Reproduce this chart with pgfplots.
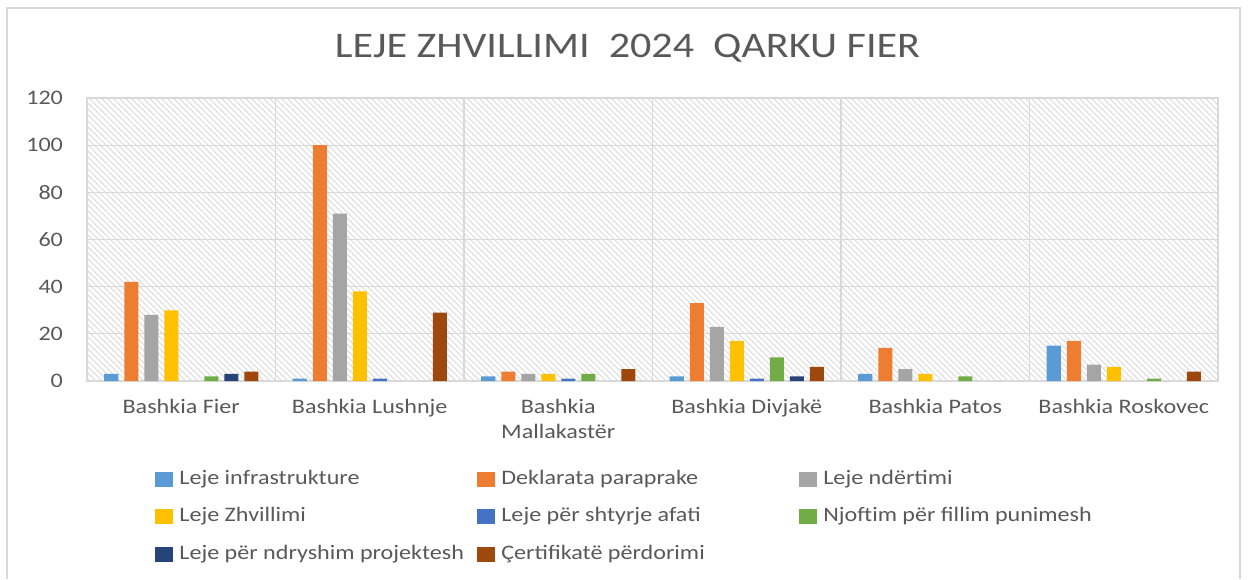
\documentclass[border=0pt]{standalone}
\usepackage{pgfplots}
\pgfplotsset{compat=1.18}
\usetikzlibrary{patterns}
\usepackage{fontspec}
\setmainfont{Carlito}[FakeStretch=1.17]
\definecolor{txt}{HTML}{595959}
\definecolor{gridc}{HTML}{D9D9D9}
\definecolor{c1}{HTML}{5B9BD5}
\definecolor{c2}{HTML}{ED7D31}
\definecolor{c3}{HTML}{A5A5A5}
\definecolor{c4}{HTML}{FFC000}
\definecolor{c5}{HTML}{4472C4}
\definecolor{c6}{HTML}{70AD47}
\definecolor{c7}{HTML}{264478}
\definecolor{c8}{HTML}{9E480E}
\begin{document}
\begin{tikzpicture}
\useasboundingbox (0,0) rectangle (624pt,-289.5pt);
\draw[gridc, line width=0.8pt] (3.5pt,-289.5pt) -- (3.5pt,-4pt) -- (620pt,-4pt) -- (620pt,-289.5pt);
\node[text=txt, font=\fontsize{18}{21}\selectfont] at (313.75pt,-24pt) {LEJE ZHVILLIMI\ \ 2024\ \ QARKU FIER};
\begin{axis}[
  at={(43.5pt,-190.5pt)}, anchor=south west,
  scale only axis, width=565.5pt, height=141.5pt,
  xmin=-0.5, xmax=5.5, ymin=0, ymax=120,
  ytick={0,20,...,120},
  xtick={0,...,5},
  xticklabels={Bashkia Fier, Bashkia Lushnje, {Bashkia\\Mallakastër}, Bashkia Divjakë, Bashkia Patos, Bashkia Roskovec},
  minor xtick={0.5,1.5,2.5,3.5,4.5},
  ymajorgrids, xminorgrids,
  major grid style={gridc, line width=0.6pt},
  minor grid style={gridc, line width=0.6pt},
  axis line style={gridc, line width=0.6pt},
  major tick length=0pt, minor tick length=0pt,
  tick style={draw=none},
  axis background/.style={pattern=north west lines, pattern color=gray!30},
  /pgf/number format/assume math mode=true,
  ticklabel style={font=\fontsize{10.3}{12.4}\selectfont, text=txt},
  yticklabel style={xshift=-8.5pt},
  xticklabel style={align=center, yshift=-5.5pt},
  ybar=3pt, bar width=7pt,
  unbounded coords=discard,
  every axis plot/.append style={draw=none, y filter/.expression={y==0 ? nan : y}},
  legend columns=3,
  legend image code/.code={\fill[#1] (0pt,-3.75pt) rectangle (9pt,3.75pt);},
  legend style={at={(axis description cs:0.0601,-0.311)}, anchor=north west, draw=none, fill=none, inner sep=0pt, column sep=3pt, row sep=8.75pt, font=\fontsize{10.3}{12.4}\selectfont, text=txt, nodes={inner sep=0pt, text height=7.5pt, text depth=2.5pt, anchor=west}},
]
\addplot[fill=c1] coordinates {(0,3) (1,1) (2,2) (3,2) (4,3) (5,15)};
\addlegendentry{\makebox[146pt][l]{Leje infrastrukture}}
\addplot[fill=c2] coordinates {(0,42) (1,100) (2,4) (3,33) (4,14) (5,17)};
\addlegendentry{\makebox[146pt][l]{Deklarata paraprake}}
\addplot[fill=c3] coordinates {(0,28) (1,71) (2,3) (3,23) (4,5) (5,7)};
\addlegendentry{\makebox[146pt][l]{Leje ndërtimi}}
\addplot[fill=c4] coordinates {(0,30) (1,38) (2,3) (3,17) (4,3) (5,6)};
\addlegendentry{\makebox[146pt][l]{Leje Zhvillimi}}
\addplot[fill=c5] coordinates {(0,0) (1,1) (2,1) (3,1) (4,0) (5,0)};
\addlegendentry{\makebox[146pt][l]{Leje për shtyrje afati}}
\addplot[fill=c6] coordinates {(0,2) (1,0) (2,3) (3,10) (4,2) (5,1)};
\addlegendentry{\makebox[146pt][l]{Njoftim për fillim punimesh}}
\addplot[fill=c7] coordinates {(0,3) (1,0) (2,0) (3,2) (4,0) (5,0)};
\addlegendentry{\makebox[146pt][l]{Leje për ndryshim projektesh}}
\addplot[fill=c8] coordinates {(0,4) (1,29) (2,5) (3,6) (4,0) (5,4)};
\addlegendentry{\makebox[146pt][l]{Çertifikatë përdorimi}}
\end{axis}
\end{tikzpicture}
\end{document}
